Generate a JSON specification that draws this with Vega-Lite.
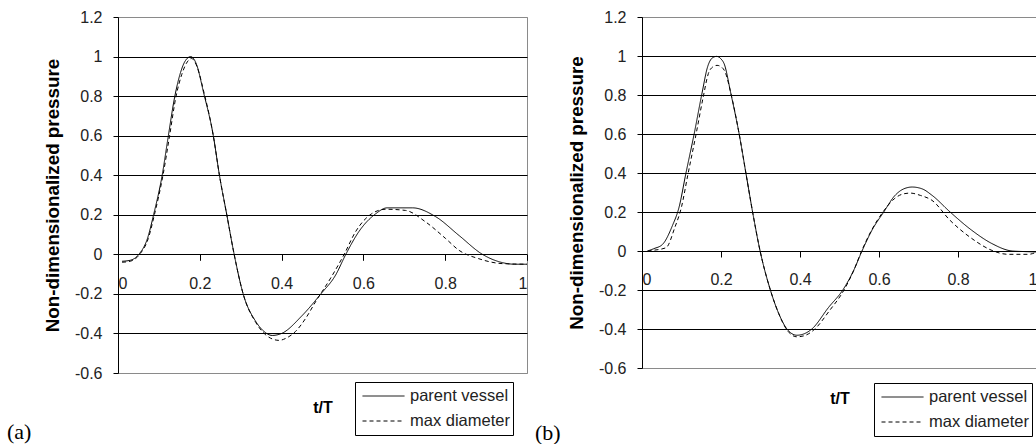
{
  "$schema": "https://vega.github.io/schema/vega-lite/v6.json",
  "autosize": {"type": "pad"},
  "padding": {"left": 6, "top": 8, "right": 0, "bottom": 0},
  "background": "white",
  "bounds": "flush",
  "spacing": 115,
  "resolve": {"scale": {"strokeDash": "independent"}, "legend": {"strokeDash": "independent"}},
  "config": {
    "view": {"stroke": "#8a8a8a", "strokeWidth": 1},
    "font": "Liberation Sans",
    "axis": {"labelFont": "Liberation Sans", "titleFont": "Liberation Sans", "labelColor": "#222", "titleColor": "#000"}
  },
  "datasets": {
    "a": [
      {"t": 0.01, "p": -0.035, "s": "parent vessel"},
      {"t": 0.03, "p": -0.03, "s": "parent vessel"},
      {"t": 0.051, "p": 0.0, "s": "parent vessel"},
      {"t": 0.072, "p": 0.08, "s": "parent vessel"},
      {"t": 0.087, "p": 0.2, "s": "parent vessel"},
      {"t": 0.108, "p": 0.4, "s": "parent vessel"},
      {"t": 0.122, "p": 0.585, "s": "parent vessel"},
      {"t": 0.139, "p": 0.8, "s": "parent vessel"},
      {"t": 0.153, "p": 0.92, "s": "parent vessel"},
      {"t": 0.165, "p": 0.98, "s": "parent vessel"},
      {"t": 0.178, "p": 1.0, "s": "parent vessel"},
      {"t": 0.192, "p": 0.96, "s": "parent vessel"},
      {"t": 0.209, "p": 0.82, "s": "parent vessel"},
      {"t": 0.233, "p": 0.6, "s": "parent vessel"},
      {"t": 0.248, "p": 0.4, "s": "parent vessel"},
      {"t": 0.266, "p": 0.2, "s": "parent vessel"},
      {"t": 0.284, "p": 0.0, "s": "parent vessel"},
      {"t": 0.306, "p": -0.2, "s": "parent vessel"},
      {"t": 0.337, "p": -0.34, "s": "parent vessel"},
      {"t": 0.357, "p": -0.39, "s": "parent vessel"},
      {"t": 0.377, "p": -0.41, "s": "parent vessel"},
      {"t": 0.4, "p": -0.4, "s": "parent vessel"},
      {"t": 0.45, "p": -0.31, "s": "parent vessel"},
      {"t": 0.496, "p": -0.2, "s": "parent vessel"},
      {"t": 0.532, "p": -0.105, "s": "parent vessel"},
      {"t": 0.557, "p": 0.0, "s": "parent vessel"},
      {"t": 0.589, "p": 0.115, "s": "parent vessel"},
      {"t": 0.63, "p": 0.205, "s": "parent vessel"},
      {"t": 0.658, "p": 0.235, "s": "parent vessel"},
      {"t": 0.72, "p": 0.235, "s": "parent vessel"},
      {"t": 0.777, "p": 0.19, "s": "parent vessel"},
      {"t": 0.834, "p": 0.095, "s": "parent vessel"},
      {"t": 0.891, "p": 0.0, "s": "parent vessel"},
      {"t": 0.94, "p": -0.042, "s": "parent vessel"},
      {"t": 0.97, "p": -0.05, "s": "parent vessel"},
      {"t": 1.0, "p": -0.05, "s": "parent vessel"},
      {"t": 0.01, "p": -0.04, "s": "max diameter"},
      {"t": 0.03, "p": -0.035, "s": "max diameter"},
      {"t": 0.053, "p": 0.0, "s": "max diameter"},
      {"t": 0.074, "p": 0.08, "s": "max diameter"},
      {"t": 0.089, "p": 0.2, "s": "max diameter"},
      {"t": 0.11, "p": 0.4, "s": "max diameter"},
      {"t": 0.125, "p": 0.585, "s": "max diameter"},
      {"t": 0.142, "p": 0.8, "s": "max diameter"},
      {"t": 0.156, "p": 0.91, "s": "max diameter"},
      {"t": 0.167, "p": 0.965, "s": "max diameter"},
      {"t": 0.18, "p": 0.99, "s": "max diameter"},
      {"t": 0.193, "p": 0.95, "s": "max diameter"},
      {"t": 0.21, "p": 0.82, "s": "max diameter"},
      {"t": 0.233, "p": 0.6, "s": "max diameter"},
      {"t": 0.248, "p": 0.4, "s": "max diameter"},
      {"t": 0.266, "p": 0.2, "s": "max diameter"},
      {"t": 0.284, "p": 0.0, "s": "max diameter"},
      {"t": 0.306, "p": -0.2, "s": "max diameter"},
      {"t": 0.337, "p": -0.345, "s": "max diameter"},
      {"t": 0.36, "p": -0.405, "s": "max diameter"},
      {"t": 0.38, "p": -0.43, "s": "max diameter"},
      {"t": 0.394, "p": -0.435, "s": "max diameter"},
      {"t": 0.41, "p": -0.425, "s": "max diameter"},
      {"t": 0.434, "p": -0.39, "s": "max diameter"},
      {"t": 0.46, "p": -0.32, "s": "max diameter"},
      {"t": 0.483, "p": -0.24, "s": "max diameter"},
      {"t": 0.52, "p": -0.12, "s": "max diameter"},
      {"t": 0.553, "p": 0.0, "s": "max diameter"},
      {"t": 0.581, "p": 0.115, "s": "max diameter"},
      {"t": 0.62, "p": 0.205, "s": "max diameter"},
      {"t": 0.654, "p": 0.228, "s": "max diameter"},
      {"t": 0.703, "p": 0.222, "s": "max diameter"},
      {"t": 0.752, "p": 0.164, "s": "max diameter"},
      {"t": 0.801, "p": 0.08, "s": "max diameter"},
      {"t": 0.834, "p": 0.02, "s": "max diameter"},
      {"t": 0.882, "p": -0.022, "s": "max diameter"},
      {"t": 0.94, "p": -0.047, "s": "max diameter"},
      {"t": 1.0, "p": -0.05, "s": "max diameter"}
    ],
    "b": [
      {"t": 0.014, "p": 0.0, "s": "parent vessel"},
      {"t": 0.03, "p": 0.012, "s": "parent vessel"},
      {"t": 0.052, "p": 0.034, "s": "parent vessel"},
      {"t": 0.077, "p": 0.13, "s": "parent vessel"},
      {"t": 0.094, "p": 0.226, "s": "parent vessel"},
      {"t": 0.111, "p": 0.397, "s": "parent vessel"},
      {"t": 0.132, "p": 0.6, "s": "parent vessel"},
      {"t": 0.152, "p": 0.81, "s": "parent vessel"},
      {"t": 0.166, "p": 0.944, "s": "parent vessel"},
      {"t": 0.178, "p": 0.99, "s": "parent vessel"},
      {"t": 0.189, "p": 0.998, "s": "parent vessel"},
      {"t": 0.2, "p": 0.985, "s": "parent vessel"},
      {"t": 0.208, "p": 0.96, "s": "parent vessel"},
      {"t": 0.225, "p": 0.807, "s": "parent vessel"},
      {"t": 0.246, "p": 0.6, "s": "parent vessel"},
      {"t": 0.263, "p": 0.4, "s": "parent vessel"},
      {"t": 0.28, "p": 0.2, "s": "parent vessel"},
      {"t": 0.299, "p": 0.0, "s": "parent vessel"},
      {"t": 0.325, "p": -0.2, "s": "parent vessel"},
      {"t": 0.346, "p": -0.32, "s": "parent vessel"},
      {"t": 0.367, "p": -0.4, "s": "parent vessel"},
      {"t": 0.392, "p": -0.432, "s": "parent vessel"},
      {"t": 0.41, "p": -0.425, "s": "parent vessel"},
      {"t": 0.43, "p": -0.4, "s": "parent vessel"},
      {"t": 0.472, "p": -0.29, "s": "parent vessel"},
      {"t": 0.51, "p": -0.195, "s": "parent vessel"},
      {"t": 0.536, "p": -0.099, "s": "parent vessel"},
      {"t": 0.557, "p": 0.0, "s": "parent vessel"},
      {"t": 0.582, "p": 0.106, "s": "parent vessel"},
      {"t": 0.612, "p": 0.2, "s": "parent vessel"},
      {"t": 0.641, "p": 0.286, "s": "parent vessel"},
      {"t": 0.662, "p": 0.318, "s": "parent vessel"},
      {"t": 0.684, "p": 0.328, "s": "parent vessel"},
      {"t": 0.71, "p": 0.318, "s": "parent vessel"},
      {"t": 0.734, "p": 0.286, "s": "parent vessel"},
      {"t": 0.78, "p": 0.2, "s": "parent vessel"},
      {"t": 0.835, "p": 0.106, "s": "parent vessel"},
      {"t": 0.886, "p": 0.038, "s": "parent vessel"},
      {"t": 0.937, "p": 0.0, "s": "parent vessel"},
      {"t": 0.97, "p": -0.003, "s": "parent vessel"},
      {"t": 1.0, "p": -0.005, "s": "parent vessel"},
      {"t": 0.014, "p": 0.0, "s": "max diameter"},
      {"t": 0.03, "p": 0.004, "s": "max diameter"},
      {"t": 0.061, "p": 0.017, "s": "max diameter"},
      {"t": 0.083, "p": 0.12, "s": "max diameter"},
      {"t": 0.1, "p": 0.226, "s": "max diameter"},
      {"t": 0.116, "p": 0.39, "s": "max diameter"},
      {"t": 0.136, "p": 0.59, "s": "max diameter"},
      {"t": 0.155, "p": 0.79, "s": "max diameter"},
      {"t": 0.168, "p": 0.91, "s": "max diameter"},
      {"t": 0.18, "p": 0.945, "s": "max diameter"},
      {"t": 0.19, "p": 0.952, "s": "max diameter"},
      {"t": 0.2, "p": 0.945, "s": "max diameter"},
      {"t": 0.21, "p": 0.92, "s": "max diameter"},
      {"t": 0.226, "p": 0.8, "s": "max diameter"},
      {"t": 0.246, "p": 0.6, "s": "max diameter"},
      {"t": 0.263, "p": 0.4, "s": "max diameter"},
      {"t": 0.28, "p": 0.2, "s": "max diameter"},
      {"t": 0.299, "p": 0.0, "s": "max diameter"},
      {"t": 0.325, "p": -0.2, "s": "max diameter"},
      {"t": 0.346, "p": -0.32, "s": "max diameter"},
      {"t": 0.367, "p": -0.405, "s": "max diameter"},
      {"t": 0.392, "p": -0.44, "s": "max diameter"},
      {"t": 0.41, "p": -0.435, "s": "max diameter"},
      {"t": 0.435, "p": -0.405, "s": "max diameter"},
      {"t": 0.475, "p": -0.305, "s": "max diameter"},
      {"t": 0.51, "p": -0.205, "s": "max diameter"},
      {"t": 0.536, "p": -0.1, "s": "max diameter"},
      {"t": 0.556, "p": 0.0, "s": "max diameter"},
      {"t": 0.581, "p": 0.106, "s": "max diameter"},
      {"t": 0.61, "p": 0.2, "s": "max diameter"},
      {"t": 0.64, "p": 0.27, "s": "max diameter"},
      {"t": 0.66, "p": 0.292, "s": "max diameter"},
      {"t": 0.679, "p": 0.297, "s": "max diameter"},
      {"t": 0.705, "p": 0.285, "s": "max diameter"},
      {"t": 0.734, "p": 0.26, "s": "max diameter"},
      {"t": 0.78, "p": 0.157, "s": "max diameter"},
      {"t": 0.835, "p": 0.064, "s": "max diameter"},
      {"t": 0.886, "p": 0.003, "s": "max diameter"},
      {"t": 0.927, "p": -0.017, "s": "max diameter"},
      {"t": 0.978, "p": -0.017, "s": "max diameter"},
      {"t": 1.0, "p": -0.005, "s": "max diameter"}
    ]
  },
  "hconcat": [
    {
      "width": 409,
      "height": 356,
      "title": {"text": "(a)", "orient": "bottom", "anchor": "start", "frame": "group", "dx": -111, "dy": -14, "offset": 0, "font": "Liberation Serif", "fontSize": 22, "fontWeight": "normal", "color": "#000"},
      "data": {"name": "a"},
      "encoding": {
        "y": {"field": "p", "type": "quantitative", "scale": {"domain": [-0.6, 1.2], "nice": false, "zero": false},
          "axis": {"title": "Non-dimensionalized pressure", "titleFontSize": 18.8, "titleFontWeight": "bold", "titlePadding": 12,
            "values": [-0.6, -0.4, -0.2, 0, 0.2, 0.4, 0.6, 0.8, 1, 1.2], "labelExpr": "'' + datum.value",
            "grid": true, "gridColor": {"condition": {"test": "abs(datum.value - 1.2) < 0.01 || abs(datum.value + 0.6) < 0.01", "value": "#8a8a8a"}, "value": "#000"}, "gridWidth": 1,
            "domainColor": "#000", "tickColor": "#000", "tickSize": 5, "labelFontSize": 16, "labelPadding": 11}},
        "strokeDash": {"field": "s", "type": "nominal", "scale": {"domain": ["parent vessel", "max diameter"], "range": [[1, 0], [4, 3]]},
          "legend": {"title": null, "orient": "none", "legendX": 237, "legendY": 365, "strokeColor": "#000", "fillColor": "#fff", "padding": 3,
            "symbolType": "stroke", "symbolSize": 1764, "symbolStrokeWidth": 1, "symbolStrokeColor": "#000", "clipHeight": 22, "rowPadding": 3,
            "labelFont": "Liberation Sans", "labelFontSize": 16.5, "labelColor": "#222", "labelOffset": 5, "symbolOffset": 4}}
      },
      "layer": [
        {
          "transform": [{"filter": "datum.s == 'parent vessel'"}],
          "mark": {"type": "line", "color": "#000", "strokeWidth": 1, "interpolate": "monotone"},
          "encoding": {"x": {"field": "t", "type": "quantitative", "scale": {"domain": [0, 1], "nice": false},
            "axis": {"orient": "bottom", "offset": -118.7, "domain": false, "grid": false, "tickColor": "#000", "tickSize": 6, "labelPadding": 15, "labelFontSize": 16, "title": null,
              "values": [0, 0.2, 0.4, 0.6, 0.8, 1], "labelExpr": "'' + datum.value"}}}
        },
        {
          "transform": [{"filter": "datum.s == 'max diameter'"}],
          "mark": {"type": "line", "color": "#000", "strokeWidth": 1, "interpolate": "monotone"},
          "encoding": {"x": {"field": "t", "type": "quantitative", "scale": {"domain": [0, 1], "nice": false},
            "axis": {"orient": "bottom", "offset": 0, "domain": false, "grid": false, "ticks": false, "labels": false, "title": "t/T", "titleFontSize": 16, "titleFontWeight": "bold", "titlePadding": 26}}}
        }
      ],
      "resolve": {"axis": {"x": "independent"}}
    },
    {
      "width": 395,
      "height": 351,
      "title": {"text": "(b)", "orient": "bottom", "anchor": "start", "frame": "group", "dx": -107, "dy": -14, "offset": 0, "font": "Liberation Serif", "fontSize": 22, "fontWeight": "normal", "color": "#000"},
      "data": {"name": "b"},
      "encoding": {
        "y": {"field": "p", "type": "quantitative", "scale": {"domain": [-0.6, 1.2], "nice": false, "zero": false},
          "axis": {"title": "Non-dimensionalized pressure", "titleFontSize": 18.8, "titleFontWeight": "bold", "titlePadding": 12,
            "values": [-0.6, -0.4, -0.2, 0, 0.2, 0.4, 0.6, 0.8, 1, 1.2], "labelExpr": "'' + datum.value",
            "grid": true, "gridColor": {"condition": {"test": "abs(datum.value - 1.2) < 0.01 || abs(datum.value + 0.6) < 0.01", "value": "#8a8a8a"}, "value": "#000"}, "gridWidth": 1,
            "domainColor": "#000", "tickColor": "#000", "tickSize": 5, "labelFontSize": 16, "labelPadding": 11}},
        "strokeDash": {"field": "s", "type": "nominal", "scale": {"domain": ["parent vessel", "max diameter"], "range": [[1, 0], [4, 3]]},
          "legend": {"title": null, "orient": "none", "legendX": 232, "legendY": 366, "strokeColor": "#000", "fillColor": "#fff", "padding": 3,
            "symbolType": "stroke", "symbolSize": 1764, "symbolStrokeWidth": 1, "symbolStrokeColor": "#000", "clipHeight": 22, "rowPadding": 3,
            "labelFont": "Liberation Sans", "labelFontSize": 16.5, "labelColor": "#222", "labelOffset": 5, "symbolOffset": 4}}
      },
      "layer": [
        {
          "transform": [{"filter": "datum.s == 'parent vessel'"}],
          "mark": {"type": "line", "color": "#000", "strokeWidth": 1, "interpolate": "monotone"},
          "encoding": {"x": {"field": "t", "type": "quantitative", "scale": {"domain": [0, 1], "nice": false},
            "axis": {"orient": "bottom", "offset": -117, "domain": false, "grid": false, "tickColor": "#000", "tickSize": 6, "labelPadding": 14, "labelFontSize": 16, "title": null,
              "values": [0, 0.2, 0.4, 0.6, 0.8, 1], "labelExpr": "'' + datum.value"}}}
        },
        {
          "transform": [{"filter": "datum.s == 'max diameter'"}],
          "mark": {"type": "line", "color": "#000", "strokeWidth": 1, "interpolate": "monotone"},
          "encoding": {"x": {"field": "t", "type": "quantitative", "scale": {"domain": [0, 1], "nice": false},
            "axis": {"orient": "bottom", "offset": 0, "domain": false, "grid": false, "ticks": false, "labels": false, "title": "t/T", "titleFontSize": 16, "titleFontWeight": "bold", "titlePadding": 22}}}
        }
      ],
      "resolve": {"axis": {"x": "independent"}}
    }
  ]
}
